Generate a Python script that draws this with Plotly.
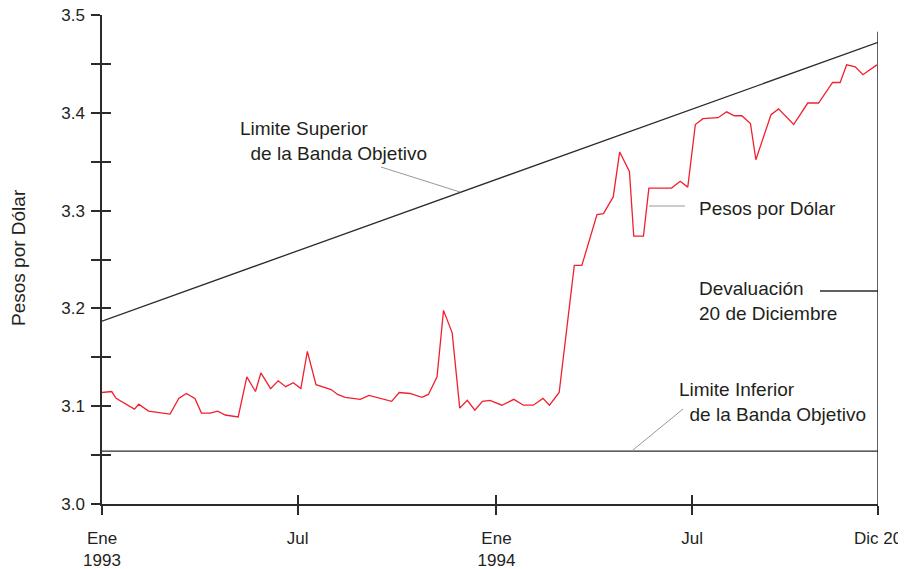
import plotly.graph_objects as go

# ---------------- data ----------------
fechas = [
    "1993-01-01", "1993-01-10", "1993-01-14", "1993-01-31", "1993-02-04", "1993-02-13",
    "1993-03-05", "1993-03-13", "1993-03-20", "1993-03-28", "1993-04-03", "1993-04-11",
    "1993-04-18", "1993-04-25", "1993-05-07", "1993-05-15", "1993-05-23", "1993-05-28",
    "1993-06-06", "1993-06-13", "1993-06-20", "1993-06-27", "1993-07-04", "1993-07-10",
    "1993-07-18", "1993-08-01", "1993-08-07", "1993-08-14", "1993-08-28", "1993-09-05",
    "1993-09-26", "1993-10-03", "1993-10-13", "1993-10-18", "1993-10-24", "1993-10-30",
    "1993-11-07", "1993-11-13", "1993-11-21", "1993-11-28", "1993-12-05", "1993-12-12",
    "1993-12-19", "1993-12-26", "1994-01-06", "1994-01-17", "1994-01-26", "1994-02-04",
    "1994-02-13", "1994-02-19", "1994-02-28", "1994-03-14", "1994-03-21", "1994-04-04",
    "1994-04-10", "1994-04-19", "1994-04-25", "1994-05-04", "1994-05-08", "1994-05-17",
    "1994-05-22", "1994-06-12", "1994-06-20", "1994-06-27", "1994-07-04", "1994-07-11",
    "1994-07-25", "1994-08-02", "1994-08-09", "1994-08-16", "1994-08-24", "1994-08-29",
    "1994-09-12", "1994-09-19", "1994-10-03", "1994-10-16", "1994-10-26", "1994-11-08",
    "1994-11-15", "1994-11-21", "1994-11-29", "1994-12-06", "1994-12-19",
]
pesos = [
    3.114, 3.115, 3.108, 3.097, 3.102, 3.095,
    3.092, 3.108, 3.113, 3.108, 3.093, 3.093,
    3.095, 3.091, 3.089, 3.130, 3.115, 3.134,
    3.118, 3.126, 3.120, 3.124, 3.118, 3.156,
    3.122, 3.117, 3.112, 3.109, 3.107, 3.111,
    3.105, 3.114, 3.113, 3.111, 3.109, 3.112,
    3.130, 3.198, 3.175, 3.098, 3.106, 3.096,
    3.105, 3.106, 3.101, 3.107, 3.101, 3.101,
    3.108, 3.101, 3.114, 3.244, 3.244, 3.296,
    3.297, 3.314, 3.360, 3.340, 3.274, 3.274,
    3.323, 3.323, 3.330, 3.324, 3.388, 3.394,
    3.395, 3.401, 3.397, 3.397, 3.389, 3.352,
    3.398, 3.404, 3.388, 3.410, 3.410, 3.431,
    3.431, 3.449, 3.447, 3.439, 3.449,
]

banda_sup_fechas = ["1993-01-01", "1994-12-20"]
banda_sup = [3.187, 3.472]
banda_inf_fechas = ["1993-01-01", "1994-12-20"]
banda_inf = [3.054, 3.054]
devaluacion_fechas = ["1994-12-20", "1994-12-20"]
devaluacion_y = [3.0, 3.483]

x_tickvals = ["1993-01-01", "1993-07-01", "1994-01-01", "1994-07-01", "1994-12-20"]
x_ticktext = ["Ene<br>1993", "Jul", "Ene<br>1994", "Jul", "Dic 20"]
y_tickvals = [3.0, 3.05, 3.1, 3.15, 3.2, 3.25, 3.3, 3.35, 3.4, 3.45, 3.5]
y_ticktext = ["3.0", "", "3.1", "", "3.2", "", "3.3", "", "3.4", "", "3.5"]

x_range = ["1993-01-01", "1994-12-20"]
y_range = [3.0, 3.5]

# ---------------- figure ----------------
# page has an 8px body margin; plot area should sit at page x 102..878, y 15..504
W, H = 906, 569
OFF = 8
PL, PT, PW, PH = 102, 15, 776, 489
ML, MT = PL - OFF, PT - OFF
MR = W - ML - PW
MB = H - MT - PH


def px_x(p):
    return (p - PL) / PW


def px_y(p):
    return (PT + PH - p) / PH


FONT = "Liberation Sans, Arial, Helvetica, sans-serif"
TXT = "#231f20"
AX = "#2b2b2b"

fig = go.Figure()
fig.add_trace(go.Scatter(x=banda_sup_fechas, y=banda_sup, mode="lines",
                         line=dict(color=AX, width=1.3), hoverinfo="skip"))
fig.add_trace(go.Scatter(x=banda_inf_fechas, y=banda_inf, mode="lines",
                         line=dict(color=AX, width=1.3), hoverinfo="skip"))
fig.add_trace(go.Scatter(x=devaluacion_fechas, y=devaluacion_y, mode="lines",
                         line=dict(color=AX, width=1.5), hoverinfo="skip"))
fig.add_trace(go.Scatter(x=fechas, y=pesos, mode="lines",
                         line=dict(color="#f0202e", width=1.3)))
# empty trace to carry the overlay axes (inside half of the crossing ticks)
fig.add_trace(go.Scatter(x=[], y=[], xaxis="x2", yaxis="y2", hoverinfo="skip"))

tickfont = dict(family=FONT, size=17, color=TXT)

fig.update_layout(
    width=W, height=H,
    margin=dict(l=ML, r=MR, t=MT, b=MB),
    paper_bgcolor="white", plot_bgcolor="white",
    showlegend=False,
    xaxis=dict(type="date", range=x_range, tickmode="array", tickvals=x_tickvals,
               ticktext=x_ticktext, ticks="outside", ticklen=9, tickwidth=1.5,
               tickcolor=AX, showline=True, linecolor=AX, linewidth=1.5,
               showgrid=False, zeroline=False, tickfont=tickfont,
               ticklabelstandoff=9, ticklabeloverflow="allow", automargin=False),
    yaxis=dict(range=y_range, tickmode="array", tickvals=y_tickvals,
               ticktext=y_ticktext, ticks="outside", ticklen=9, tickwidth=1.5,
               tickcolor=AX, showline=True, linecolor=AX, linewidth=1.5,
               showgrid=False, zeroline=False, tickfont=tickfont,
               ticklabelstandoff=3, ticklabeloverflow="allow", automargin=False),
    xaxis2=dict(type="date", range=x_range, overlaying="x", side="bottom",
                anchor="y2", tickmode="array", tickvals=x_tickvals,
                ticks="inside", ticklen=9, tickwidth=1.5, tickcolor=AX,
                showticklabels=False, showline=False, showgrid=False,
                zeroline=False, automargin=False),
    yaxis2=dict(range=y_range, overlaying="y", side="left", anchor="x2",
                tickmode="array", tickvals=y_tickvals, ticks="inside",
                ticklen=9, tickwidth=1.5, tickcolor=AX, showticklabels=False,
                showline=False, showgrid=False, zeroline=False,
                automargin=False),
)

afont = dict(family=FONT, size=19, color=TXT)
NB = "\u00a0"
annotations = [
    dict(text="Limite Superior<br>" + NB * 2 + "de la Banda Objetivo",
         x=px_x(238), y=px_y(141), xanchor="left", yanchor="middle", align="left"),
    dict(text="Pesos por Dólar", x=px_x(697), y=px_y(209),
         xanchor="left", yanchor="middle", align="left"),
    dict(text="Devaluación<br>20 de Diciembre", x=px_x(697), y=px_y(301),
         xanchor="left", yanchor="middle", align="left"),
    dict(text="Limite Inferior<br>" + NB * 2 + "de la Banda Objetivo",
         x=px_x(677), y=px_y(402), xanchor="left", yanchor="middle", align="left"),
    dict(text="Pesos por Dólar", x=px_x(18), y=px_y(258), textangle=-90,
         xanchor="center", yanchor="middle"),
]
for a in annotations:
    a.update(xref="paper", yref="paper", showarrow=False, font=afont)
fig.update_layout(annotations=annotations)

GRAY = "#8c8c8c"
leaders = [
    (381, 167, 460, 192, GRAY, 0.9),
    (649, 206, 685, 206, GRAY, 0.9),
    (633, 450, 683, 409, GRAY, 0.9),
    (820, 291, 878, 291, AX, 1.3),
]
for x0, y0, x1, y1, c, w in leaders:
    fig.add_shape(type="line", xref="paper", yref="paper",
                  x0=px_x(x0), y0=px_y(y0), x1=px_x(x1), y1=px_y(y1),
                  line=dict(color=c, width=w))

fig.write_html("out.html")
